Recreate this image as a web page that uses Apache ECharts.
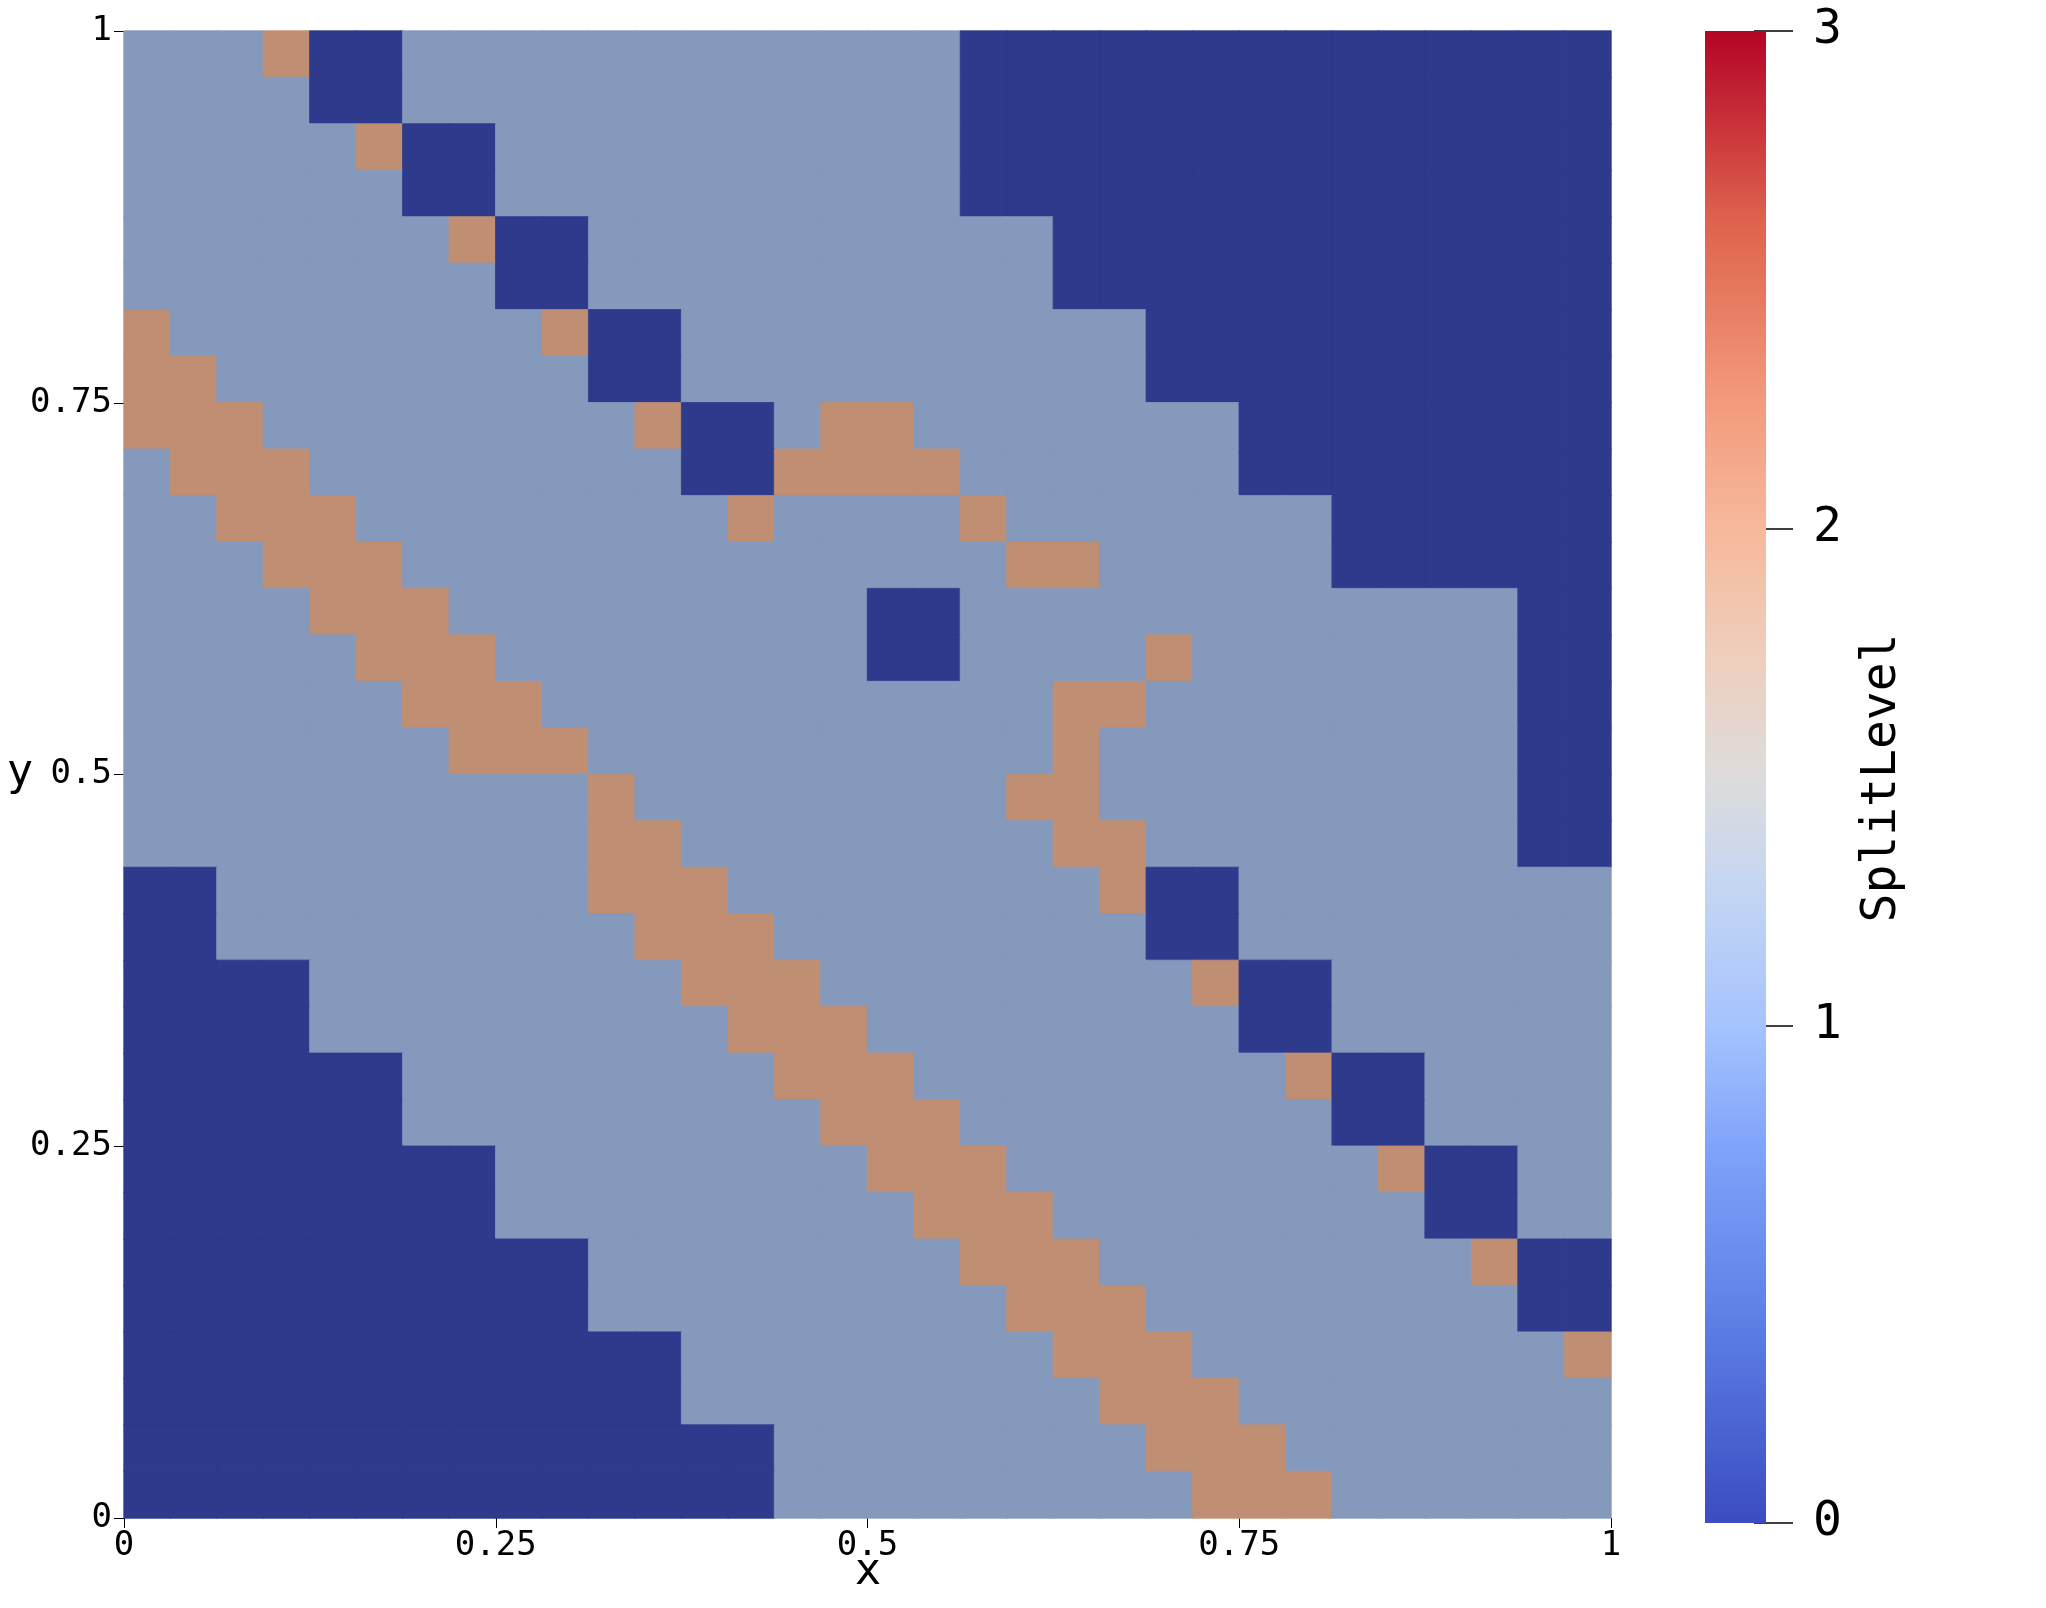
<!DOCTYPE html>
<html>
<head>
<meta charset="utf-8">
<script src="https://cdn.jsdelivr.net/npm/echarts/dist/echarts.min.js"></script>
<style>
html,body{margin:0;padding:0;background:#fff;}
#chart{width:2046px;height:1608px;}
</style>
</head>
<body>
<div id="chart"></div>
<script>
// Cell centres of the 32 x 32 grid (x and y share them)
var cellCenters = ['0.0156','0.0469','0.0781','0.1094','0.1406','0.1719','0.2031','0.2344',
  '0.2656','0.2969','0.3281','0.3594','0.3906','0.4219','0.4531','0.4844',
  '0.5156','0.5469','0.5781','0.6094','0.6406','0.6719','0.7031','0.7344',
  '0.7656','0.7969','0.8281','0.8594','0.8906','0.9219','0.9531','0.9844'];

// SplitLevel per cell, one string per row, top row (y near 1) first, columns left to right
var splitLevelRows = [
  '11120011' + '11111111' + '11000000' + '00000000',
  '11110011' + '11111111' + '11000000' + '00000000',
  '11111200' + '11111111' + '11000000' + '00000000',
  '11111100' + '11111111' + '11000000' + '00000000',
  '11111112' + '00111111' + '11110000' + '00000000',
  '11111111' + '00111111' + '11110000' + '00000000',
  '21111111' + '12001111' + '11111100' + '00000000',
  '22111111' + '11001111' + '11111100' + '00000000',
  '22211111' + '11120012' + '21111111' + '00000000',
  '12221111' + '11110022' + '22111111' + '00000000',
  '11222111' + '11111211' + '11211111' + '11000000',
  '11122211' + '11111111' + '11122111' + '11000000',
  '11112221' + '11111111' + '00111111' + '11111100',
  '11111222' + '11111111' + '00111121' + '11111100',
  '11111122' + '21111111' + '11112211' + '11111100',
  '11111112' + '22111111' + '11112111' + '11111100',
  '11111111' + '11211111' + '11122111' + '11111100',
  '11111111' + '11221111' + '11112211' + '11111100',
  '00111111' + '11222111' + '11111200' + '11111111',
  '00111111' + '11122211' + '11111100' + '11111111',
  '00001111' + '11112221' + '11111112' + '00111111',
  '00001111' + '11111222' + '11111111' + '00111111',
  '00000011' + '11111122' + '21111111' + '12001111',
  '00000011' + '11111112' + '22111111' + '11001111',
  '00000000' + '11111111' + '22211111' + '11120011',
  '00000000' + '11111111' + '12221111' + '11110011',
  '00000000' + '00111111' + '11222111' + '11111200',
  '00000000' + '00111111' + '11122211' + '11111100',
  '00000000' + '00001111' + '11112221' + '11111112',
  '00000000' + '00001111' + '11111222' + '11111111',
  '00000000' + '00000011' + '11111122' + '21111111',
  '00000000' + '00000011' + '11111112' + '22111111'
];

var levelValues = [0, 1, 2];
var levelColors = ['#2e3a8c', '#8599bc', '#c08e72'];
var axisTicks = [0, 0.25, 0.5, 0.75, 1];
var colorbarTicks = [0, 1, 2, 3];
var colorbarMax = [3];

// Build heatmap items [col, rowFromBottom, value]
var heatData = [];
for (var r = 0; r < splitLevelRows.length; r++) {
  var row = splitLevelRows[r];
  for (var c = 0; c < row.length; c++) {
    var v = Number(row.charAt(c));
    heatData.push({
      value: [c, splitLevelRows.length - 1 - r, v],
      itemStyle: {borderColor: levelColors[v], borderWidth: 0.8}
    });
  }
}

var mono = 'DejaVu Sans Mono';
var chart = echarts.init(document.getElementById('chart'), null, {renderer: 'canvas'});

var coolwarm = [
  {offset: 0.0, color: '#3b4cc0'},
  {offset: 0.125, color: '#5b7be4'},
  {offset: 0.25, color: '#7fa2fa'},
  {offset: 0.333, color: '#a5c3fe'},
  {offset: 0.42, color: '#c3d5f4'},
  {offset: 0.5, color: '#dddcdc'},
  {offset: 0.58, color: '#efcebd'},
  {offset: 0.667, color: '#f7b89c'},
  {offset: 0.75, color: '#f39b7c'},
  {offset: 0.875, color: '#de614d'},
  {offset: 1.0, color: '#b40426'}
];

var option = {
  backgroundColor: '#ffffff',
  animation: false,
  grid: [
    {left: 124, top: 31, width: 1487, height: 1487, containLabel: false},
    {left: 1705, top: 31, width: 61, height: 1492, containLabel: false}
  ],
  xAxis: [
    {type: 'category', gridIndex: 0, data: cellCenters, show: false},
    {type: 'value', gridIndex: 0, position: 'bottom', min: axisTicks[0], max: axisTicks[axisTicks.length - 1], interval: 0.25,
      axisLine: {show: false},
      axisTick: {show: true, length: 10, lineStyle: {color: '#000', width: 1}},
      axisLabel: {show: true, margin: 11, fontFamily: mono, fontSize: 34, color: '#000'},
      splitLine: {show: false}},
    {type: 'category', gridIndex: 1, data: ['SplitLevel'], show: false}
  ],
  yAxis: [
    {type: 'category', gridIndex: 0, data: cellCenters, show: false},
    {type: 'value', gridIndex: 0, position: 'left', min: axisTicks[0], max: axisTicks[axisTicks.length - 1], interval: 0.25,
      axisLine: {show: false},
      axisTick: {show: true, length: 10, lineStyle: {color: '#000', width: 1}},
      axisLabel: {show: true, margin: 12, fontFamily: mono, fontSize: 34, color: '#000'},
      splitLine: {show: false}},
    {type: 'value', gridIndex: 1, position: 'right', offset: -12,
      min: colorbarTicks[0], max: colorbarTicks[colorbarTicks.length - 1], interval: 1,
      axisLine: {show: false},
      axisTick: {show: true, inside: false, length: 39, lineStyle: {color: '#000', width: 1.5}},
      axisLabel: {show: true, margin: 59, fontFamily: mono, fontSize: 48, color: '#000'},
      splitLine: {show: false}}
  ],
  visualMap: [{
    type: 'piecewise', show: false, seriesIndex: 0, dimension: 2,
    pieces: levelValues.map(function (lv, i) { return {value: lv, color: levelColors[i]}; })
  }],
  series: [
    {type: 'heatmap', xAxisIndex: 0, yAxisIndex: 0, data: heatData,
      emphasis: {disabled: true}, progressive: 0},
    {type: 'bar', xAxisIndex: 2, yAxisIndex: 2, data: colorbarMax, barWidth: '100%',
      itemStyle: {color: new echarts.graphic.LinearGradient(0, 1, 0, 0, coolwarm)},
      emphasis: {disabled: true}}
  ],
  graphic: [
    {type: 'text', x: 20, y: 774, style: {text: 'y', font: '44px "DejaVu Sans Mono"', fill: '#000', textAlign: 'center', textVerticalAlign: 'middle'}},
    {type: 'text', x: 868, y: 1573, style: {text: 'x', font: '44px "DejaVu Sans Mono"', fill: '#000', textAlign: 'center', textVerticalAlign: 'middle'}},
    {type: 'text', x: 1883, y: 778, rotation: Math.PI / 2, style: {text: 'SplitLevel', font: '48px "DejaVu Sans Mono"', fill: '#000', textAlign: 'center', textVerticalAlign: 'middle'}}
  ]
};
chart.setOption(option);
</script>
</body>
</html>
